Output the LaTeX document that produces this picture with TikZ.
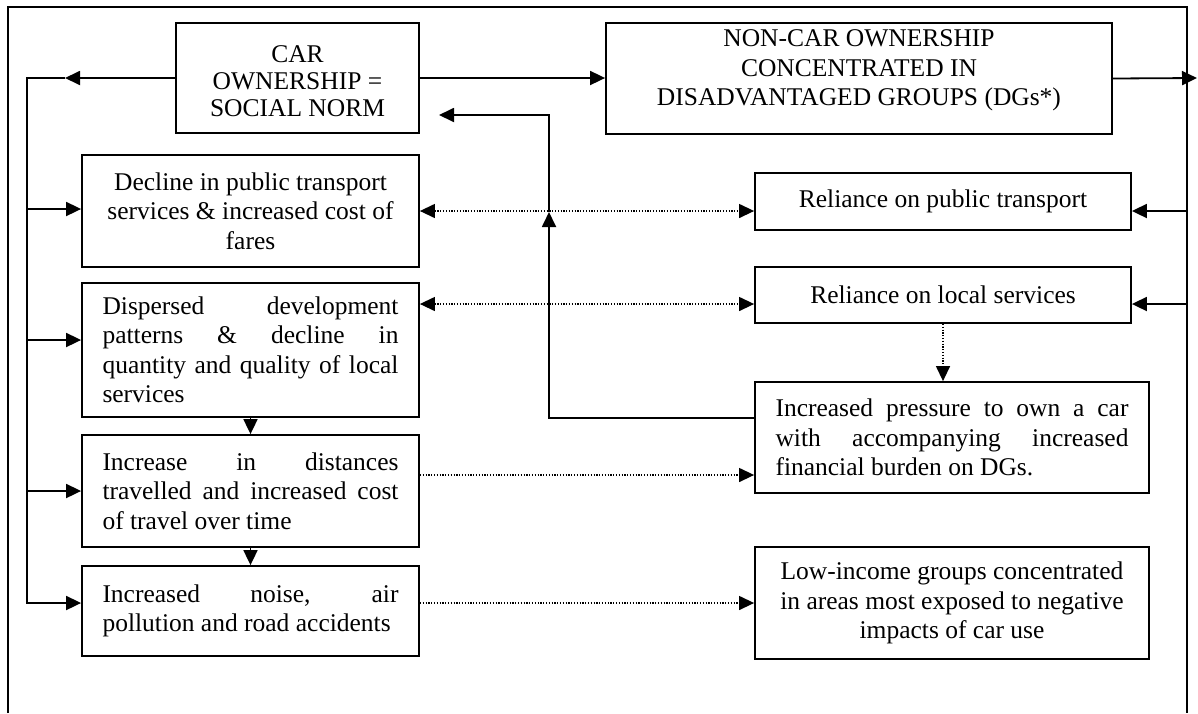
\documentclass[tikz,border=0pt]{standalone}
\usepackage{fontspec}
\setmainfont{Liberation Serif}
\usetikzlibrary{arrows.meta}
\newcommand{\jl}[2]{\makebox[#1][s]{#2}}
\hbadness=10000
\hfuzz=50pt
\begin{document}
\begin{tikzpicture}[x=1pt,y=-1pt,
  box/.style={draw, line width=1.8pt, inner xsep=20.5pt, inner ysep=0pt,
    font=\fontsize{25.5}{29.5}\selectfont, align=flush center},
  cbox/.style={box, inner xsep=4pt},
  conn/.style={line width=1.8pt},
  arr/.style={conn, -{Triangle[length=15pt,width=14pt]}},
  dot/.style={line width=1.3pt, dash pattern=on 1.2pt off 1.6pt},
  darr/.style={dot, -{Triangle[length=15pt,width=14pt]}},
  ddarr/.style={dot, {Triangle[length=15pt,width=14pt]}-{Triangle[length=15pt,width=14pt]}}
]
\useasboundingbox (0,0) rectangle (1198,713);

% frame
\draw[conn] (8,713) -- (8,7) -- (1187,7) -- (1187,713);

% boxes
\node[cbox, text width=235pt, minimum height=110pt, font=\fontsize{25.5}{27}\selectfont] (car) at (297.5,78)
  {\rule{0pt}{24pt}CAR\\OWNERSHIP =\\SOCIAL NORM};
\node[cbox, text width=498pt, minimum height=111pt] (noncar) at (859,78.5)
  {NON-CAR OWNERSHIP\\CONCENTRATED IN\\DISADVANTAGED GROUPS (DGs*)\\[-8pt]\mbox{}};
\node[cbox, text width=329pt, minimum height=112pt] (dec) at (250.5,211)
  {Decline in public transport\\services \& increased cost of\\fares};
\node[box, text width=296pt, minimum height=134pt, align=flush left] (disp) at (250.5,350)
  {\jl{296pt}{Dispersed development}\\\jl{296pt}{patterns \& decline in}\\\jl{296pt}{quantity and quality of local}\\services};
\node[box, text width=296pt, minimum height=112pt, align=flush left] (inc) at (250.5,491)
  {\jl{296pt}{Increase in distances}\\\jl{296pt}{travelled and increased cost}\\of travel over time};
\node[box, text width=296pt, minimum height=90pt, align=flush left] (noise) at (250.5,611)
  {\jl{296pt}{Increased noise, air}\\pollution and road accidents};
\node[cbox, text width=368pt, minimum height=57pt] (pt) at (943,201.5)
  {Reliance on public transport};
\node[cbox, text width=368pt, minimum height=56pt] (loc) at (943,295)
  {Reliance on local services};
\node[box, text width=353pt, minimum height=111pt, align=flush left] (press) at (952,437.5)
  {\jl{353pt}{Increased pressure to own a car}\\\jl{353pt}{with accompanying increased}\\financial burden on DGs.};
\node[cbox, text width=386pt, minimum height=112pt] (low) at (952,603)
  {Low-income groups concentrated\\in areas most exposed to negative\\impacts of car use};

% left feedback bus
\coordinate (Ltip) at (65,78);
\coordinate (Lc) at (27,78);
\coordinate (Lb) at (27,603);
\coordinate (L1) at (27,209);
\coordinate (L2) at (27,340);
\coordinate (L3) at (27,491);
\draw[arr] (car.west) -- (Ltip);
\draw[arr] (Ltip) -- (Lc) -- (Lb) -- (Lb -| noise.west);
\draw[arr] (L1) -- (L1 -| dec.west);
\draw[arr] (L2) -- (L2 -| disp.west);
\draw[arr] (L3) -- (L3 -| inc.west);

% car -> noncar
\draw[arr] (car.east) -- (car.east -| noncar.west);

% noncar -> right bus
\coordinate (Rtip) at (1197,78);
\coordinate (R1) at (1187,211);
\coordinate (R2) at (1187,304);
\draw[arr] (noncar.east) -- (Rtip);
\draw[arr] (R1) -- (R1 -| pt.east);
\draw[arr] (R2) -- (R2 -| loc.east);

% pressure -> back to car
\coordinate (B1) at (549,418);
\coordinate (B2) at (549,212);
\coordinate (B3) at (549,115);
\coordinate (B4) at (439,115);
\draw[arr] (B1 -| press.west) -- (B1) -- (B2);
\draw[arr] (B2) -- (B3) -- (B4);

% downward chain
\draw[arr] (disp.south) -- (inc.north);
\draw[arr] (inc.south) -- (noise.north);

% dotted links
\draw[ddarr] (dec.east) -- (dec.east -| pt.west);
\coordinate (D2) at (419,304);
\draw[ddarr] (D2 -| disp.east) -- (D2 -| loc.west);
\draw[darr] (loc.south) -- (loc.south |- press.north);
\coordinate (D3) at (419,475);
\draw[darr] (D3 -| inc.east) -- (D3 -| press.west);
\draw[darr] (low.west -| noise.east) -- (low.west);
\end{tikzpicture}
\end{document}
